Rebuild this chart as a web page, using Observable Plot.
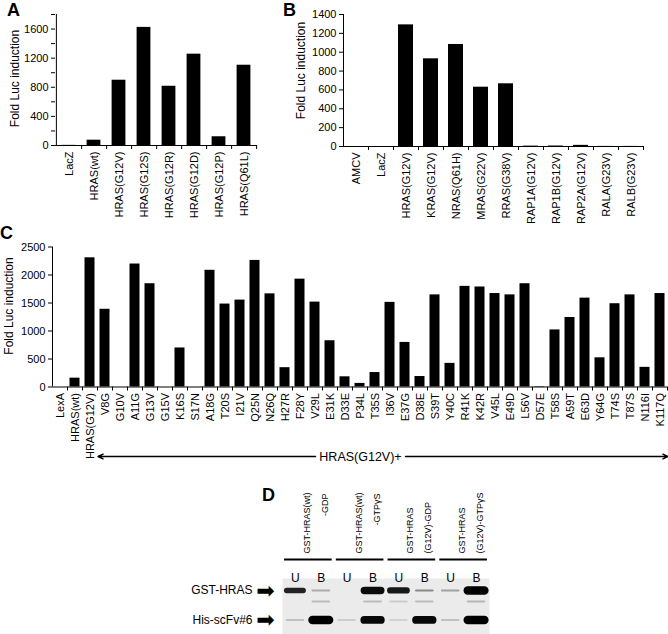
<!DOCTYPE html>
<html><head><meta charset="utf-8">
<script src="https://cdn.jsdelivr.net/npm/d3@7"></script>
<script src="https://cdn.jsdelivr.net/npm/@observablehq/plot@0.6"></script>
<style>
body{margin:0;background:#fff;}
#fig{position:relative;width:668px;height:634px;overflow:hidden;font-family:"Liberation Sans",Arial,Helvetica,sans-serif;}
.panel{position:absolute;}
.lbl{position:absolute;font-weight:bold;font-size:18px;line-height:18px;color:#000;}
</style></head><body><div id="fig"></div>
<script>
// ---------- data ----------
const catsA = ["LacZ","HRAS(wt)","HRAS(G12V)","HRAS(G12S)","HRAS(G12R)","HRAS(G12D)","HRAS(G12P)","HRAS(Q61L)"];
const valsA = [2, 73, 897, 1623, 814, 1255, 120, 1103];

const catsB = ["AMCV","LacZ","HRAS(G12V)","KRAS(G12V)","NRAS(Q61H)","MRAS(G22V)","RRAS(G38V)","RAP1A(G12V)","RAP1B(G12V)","RAP2A(G12V)","RALA(G23V)","RALB(G23V)"];
const valsB = [0, 0, 1290, 930, 1082, 629, 665, 4, 5, 12, 1, 1];

const catsC = ["LexA","HRAS(wt)","HRAS(G12V)","V8G","G10V","A11G","G13V","G15V","K16S","S17N","A18G","T20S","I21V","Q25N","N26Q","H27R","F28Y","V29L","E31K","D33E","P34L","T35S","I36V","E37G","D38E","S39T","Y40C","R41K","K42R","V45L","E49D","L56V","D57E","T58S","A59T","E63D","Y64G","T74S","T87S","N116I","K117Q"];
const valsC = [0, 158, 2307, 1388, 0, 2196, 1844, 0, 697, 0, 2084, 1481, 1552, 2260, 1663, 345, 1926, 1516, 826, 182, 64, 258, 1511, 796, 187, 1645, 422, 1797, 1786, 1669, 1645, 1844, 8, 1019, 1241, 1587, 521, 1487, 1645, 351, 1669];

// annotation under panel C
const arrowLabel = "HRAS(G12V)+";
const arrowLabelAt = "P34L";
const arrowLeft = ["V29L", "V8G"];    // from, to
const arrowRight = ["E37G", "K117Q"]; // from, to

// panel D (gel)
const gelLanes = ["U","B","U","B","U","B","U","B"];
const gelGroupLine1 = ["GST-HRAS(wt)","GST-HRAS(wt)","GST-HRAS","GST-HRAS"];
const gelGroupLine2 = ["-GDP","-GTPγS","(G12V)-GDP","(G12V)-GTPγS"];
const gelBandNames = ["GST-HRAS", "", "His-scFv#6"];
const gelBandMigration = [0.214, 0.41, 0.74];
const gstIntensity = [0.85, 0.25, 0, 0.95, 0.9, 0.4, 0.3, 1.0];
const midIntensity = [0, 0.18, 0, 0.18, 0.1, 0.18, 0, 0.2];
const hisIntensity = [0.16, 1.0, 0.1, 0.97, 0.08, 0.97, 0.16, 1.0];

// ---------- helpers ----------
const FONT = '"Liberation Sans", Arial, Helvetica, sans-serif';
const fig = document.getElementById("fig");
function place(node, left, top) {
  node.classList.add("panel");
  node.style.left = left + "px";
  node.style.top = top + "px";
  fig.appendChild(node);
}
function letter(t, left, top) {
  const d = document.createElement("div");
  d.className = "lbl"; d.textContent = t;
  d.style.left = left + "px"; d.style.top = top + "px";
  fig.appendChild(d);
}

function barPanel({cats, vals, yMax, tickStep, labelStep, width, height, ml, mr, mt, mb, inset, labelDx, labelDy}) {
  const data = cats.map((c, i) => ({cat: c, val: vals[i]}));
  const n = cats.length;
  const step = (width - ml - mr) / n;
  const plotH = height - mt - mb;
  const tickLen = 4 / plotH * yMax;
  const ticks = d3.range(0, yMax + 1e-9, tickStep);
  return Plot.plot({
    width, height, marginLeft: ml, marginRight: mr, marginTop: mt, marginBottom: mb,
    style: {fontFamily: FONT, fontSize: "11px", color: "black", background: "transparent", overflow: "visible"},
    x: {domain: cats, padding: 0},
    y: {domain: [0, yMax]},
    marks: [
      Plot.barY(data, {x: "cat", y: "val", fill: "black", insetLeft: inset, insetRight: inset}),
      Plot.ruleY([0], {stroke: "black"}),
      Plot.ruleX([cats[0]], {x: d => d, y1: 0, y2: yMax, dx: -step / 2, stroke: "black"}),
      Plot.ruleX(cats, {x: d => d, y1: 0, y2: -tickLen, dx: step / 2, stroke: "black"}),
      Plot.axisY({ticks, tickSize: 4, tickPadding: 3, tickFormat: d => (Math.round(d) % labelStep === 0 ? String(d) : ""), label: null, fontSize: 11}),
      Plot.axisX({tickRotate: -90, tickSize: 0, tickPadding: 6, label: null, fontSize: 11}),
      Plot.text(["Fold Luc induction"], {frameAnchor: "left", textAnchor: "middle", lineAnchor: "middle", rotate: -90, dx: labelDx, dy: labelDy, fontSize: 12})
    ]
  });
}

// ---------- panel A ----------
place(barPanel({cats: catsA, vals: valsA, yMax: 1800, tickStep: 200, labelStep: 400,
  width: 270, height: 228, ml: 55, mr: 13, mt: 14, mb: 83, inset: 5.6, labelDx: -40, labelDy: -1.5}), 0, 0);

// ---------- panel B ----------
place(barPanel({cats: catsB, vals: valsB, yMax: 1400, tickStep: 200, labelStep: 200,
  width: 383, height: 228, ml: 58, mr: 25, mt: 14, mb: 82, inset: 5, labelDx: -42, labelDy: -10}), 285, 0);

// ---------- panel C ----------
const cW = 668, cML = 52, cMR = 1;
place(barPanel({cats: catsC, vals: valsC, yMax: 2500, tickStep: 500, labelStep: 500,
  width: cW, height: 240, ml: cML, mr: cMR, mt: 21.5, mb: 78.5, inset: 2.5, labelDx: -43, labelDy: -11}), 0, 225);

const cStep = (cW - cML - cMR) / catsC.length;
place(Plot.plot({
  width: cW, height: 22, marginLeft: cML, marginRight: cMR, marginTop: 0, marginBottom: 0,
  style: {fontFamily: FONT, color: "black", background: "transparent", overflow: "visible"},
  x: {domain: catsC, padding: 0, axis: null},
  y: {domain: [-1, 1], axis: null},
  marks: [
    Plot.arrow([arrowLeft, arrowRight], {x1: d => d[0], x2: d => d[1], y1: () => 0, y2: () => 0,
      insetEnd: -cStep / 2, headLength: 6, headAngle: 50, strokeWidth: 1.4, stroke: "black"}),
    Plot.text([arrowLabel], {x: () => arrowLabelAt, y: () => 0, fontSize: 12.5, fill: "black"})
  ]
}), 0, 445);

// ---------- panel D ----------
const groups = gelGroupLine1.map((t, g) => ({g, line1: t, line2: gelGroupLine2[g], center: 2 * g + 0.5, start: 2 * g, end: 2 * g + 1}));
const lanes = gelLanes.map((l, i) => ({lane: i, name: l}));
const bands = [];
[gstIntensity, midIntensity, hisIntensity].forEach((arr, r) => {
  arr.forEach((v, i) => { if (v > 0) bands.push({lane: i, row: r, migration: gelBandMigration[r], intensity: v}); });
});
const bandLabels = gelBandNames.map((n, r) => ({name: n, migration: gelBandMigration[r]})).filter(d => d.name);

place(Plot.plot({
  width: 320, height: 164, marginLeft: 102, marginRight: 11, marginTop: 108, marginBottom: 0,
  style: {fontFamily: FONT, color: "black", background: "transparent", overflow: "visible"},
  x: {domain: [-0.5, gelLanes.length - 0.5], axis: null},
  y: {domain: [0, 1], reverse: true, axis: null},
  color: {type: "linear", domain: [0, 1], range: ["#e4e4e4", "#000000"], clamp: true},
  marks: [
    Plot.frame({fill: "#ebebeb", stroke: "none"}),
    Plot.ruleY(bands, {y: "migration", x1: d => d.lane - 0.32, x2: d => d.lane + 0.32,
      stroke: "intensity", strokeWidth: d => 2 + 6.5 * Math.pow(d.intensity, 4), strokeLinecap: "round"}),
    Plot.text(lanes, {x: "lane", text: "name", frameAnchor: "top", dy: -5.5, fontSize: 12, fill: "black"}),
    Plot.ruleY(groups, {y: () => 0, x1: d => d.start - 0.42, x2: d => d.end + 0.42, dy: -19, stroke: "black", strokeWidth: 1.8}),
    Plot.text(groups, {x: "center", text: "line1", frameAnchor: "top", dy: -25, dx: -5, rotate: -90, textAnchor: "start", fontSize: 9, fill: "black"}),
    Plot.text(groups.filter(d => d.g < 2), {x: "center", text: "line2", frameAnchor: "top", dy: -85, dx: 13, rotate: -90, textAnchor: "end", fontSize: 9, fill: "black"}),
    Plot.text(groups.filter(d => d.g >= 2), {x: "center", text: "line2", frameAnchor: "top", dy: -25, dx: 13, rotate: -90, textAnchor: "start", fontSize: 9, fill: "black"}),
    Plot.text(bandLabels, {y: "migration", text: "name", frameAnchor: "left", dx: -30, textAnchor: "end", fontSize: 12, fill: "black"}),
    Plot.text(bandLabels, {y: "migration", text: () => "➡", frameAnchor: "left", dx: -17, textAnchor: "middle", fontSize: 22, fontFamily: "DejaVu Sans", fill: "black"})
  ]
}), 180, 470);

// ---------- panel letters ----------
letter("A", 7, 1);
letter("B", 283, 1);
letter("C", 0, 224);
letter("D", 262, 486);
</script>
</body></html>
